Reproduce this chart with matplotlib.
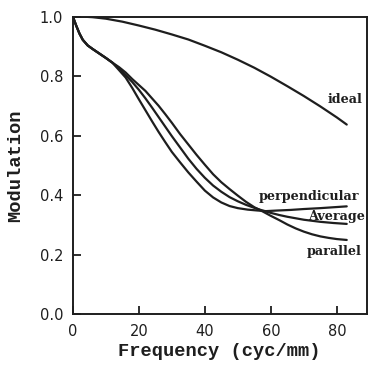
import matplotlib
matplotlib.use("Agg")
import matplotlib.pyplot as plt

# Modulation transfer curves (frequency in cyc/mm, modulation 0..1)
ideal_x = [0, 3, 6, 10, 15, 20, 25, 30, 35, 40, 45, 50, 55, 60, 65, 70, 75, 80, 83]
ideal_y = [1.0, 1.0, 0.998, 0.993, 0.983, 0.97, 0.956, 0.94, 0.923, 0.902, 0.88,
           0.855, 0.828, 0.798, 0.766, 0.733, 0.698, 0.661, 0.637]

perp_x = [0, 0.5, 1, 2, 3, 4.5, 6, 8, 10, 12, 14, 16, 18, 20, 22, 24, 26, 28, 30,
          32.5, 35, 37.5, 40, 42.5, 45, 47.5, 50, 53, 56, 58.5, 62, 66, 70, 75, 79, 83]
perp_y = [1.0, 0.985, 0.97, 0.943, 0.922, 0.903, 0.891, 0.876, 0.861, 0.845, 0.82,
          0.795, 0.76, 0.722, 0.685, 0.648, 0.612, 0.578, 0.545, 0.51, 0.476, 0.445,
          0.415, 0.392, 0.375, 0.363, 0.356, 0.351, 0.348, 0.346, 0.348, 0.35, 0.353,
          0.356, 0.359, 0.362]

avg_x = [0, 0.5, 1, 2, 3, 4.5, 6, 8, 10, 12, 14, 16, 18, 20, 22, 24, 26, 28, 30,
         32.5, 35, 37.5, 40, 42.5, 45, 47.5, 50, 52.5, 55, 57.5, 60, 62.5, 65, 70,
         75, 79, 83]
avg_y = [1.0, 0.985, 0.97, 0.943, 0.922, 0.903, 0.891, 0.876, 0.861, 0.845, 0.825,
         0.803, 0.78, 0.754, 0.725, 0.694, 0.662, 0.63, 0.598, 0.56, 0.522, 0.488,
         0.458, 0.432, 0.411, 0.393, 0.379, 0.367, 0.357, 0.348, 0.34, 0.333, 0.327,
         0.317, 0.31, 0.306, 0.303]

par_x = [0, 0.5, 1, 2, 3, 4.5, 6, 8, 10, 12, 14, 16, 18, 20, 22, 24, 26, 28, 30,
         32.5, 35, 37.5, 40, 42.5, 45, 47.5, 50, 52.5, 55, 57.5, 60, 62.5, 65, 67.5,
         70, 72.5, 75, 77.5, 80, 83]
par_y = [1.0, 0.985, 0.97, 0.943, 0.922, 0.903, 0.891, 0.876, 0.861, 0.845, 0.83,
         0.812, 0.79, 0.77, 0.75, 0.725, 0.7, 0.672, 0.643, 0.605, 0.57, 0.535, 0.502,
         0.47, 0.443, 0.42, 0.398, 0.377, 0.359, 0.345, 0.33, 0.316, 0.301, 0.288,
         0.277, 0.268, 0.261, 0.256, 0.252, 0.249]

labels = ["ideal", "perpendicular", "Average", "parallel"]

fig = plt.figure(figsize=(3.68, 3.69), dpi=100)
ax = fig.add_axes([0.198, 0.149, 0.798, 0.806])

ink = "#1e1e1e"
for xs, ys in [(ideal_x, ideal_y), (perp_x, perp_y), (avg_x, avg_y), (par_x, par_y)]:
    ax.plot(xs, ys, color=ink, lw=1.6, solid_capstyle="round", solid_joinstyle="round")

lab_font = dict(family="DejaVu Serif", weight="bold", fontsize=9.2, color=ink)
ax.text(77.2, 0.72, labels[0], ha="left", va="center", **lab_font)
ax.text(56.4, 0.396, labels[1], ha="left", va="center", **lab_font)
ax.text(71.2, 0.328, labels[2], ha="left", va="center", **lab_font)
ax.text(71.0, 0.209, labels[3], ha="left", va="center", **lab_font)

ax.set_xlim(0, 89)
ax.set_ylim(0, 1.0)
ax.set_xticks([0, 20, 40, 60, 80])
ax.set_yticks([0.0, 0.2, 0.4, 0.6, 0.8, 1.0])
ax.set_yticklabels(["0.0", "0.2", "0.4", "0.6", "0.8", "1.0"])
ax.tick_params(direction="in", length=6, width=1.3, colors=ink, labelsize=10.5, pad=7)
for sp in ax.spines.values():
    sp.set_linewidth(1.4)
    sp.set_color(ink)

ax.set_xlabel("Frequency (cyc/mm)", family="Liberation Mono", weight="bold",
              fontsize=13.5, color=ink, labelpad=3)
ax.set_ylabel("Modulation", family="Liberation Mono", weight="bold",
              fontsize=13.5, color=ink, labelpad=11)

fig.savefig("out.png", dpi=100)
